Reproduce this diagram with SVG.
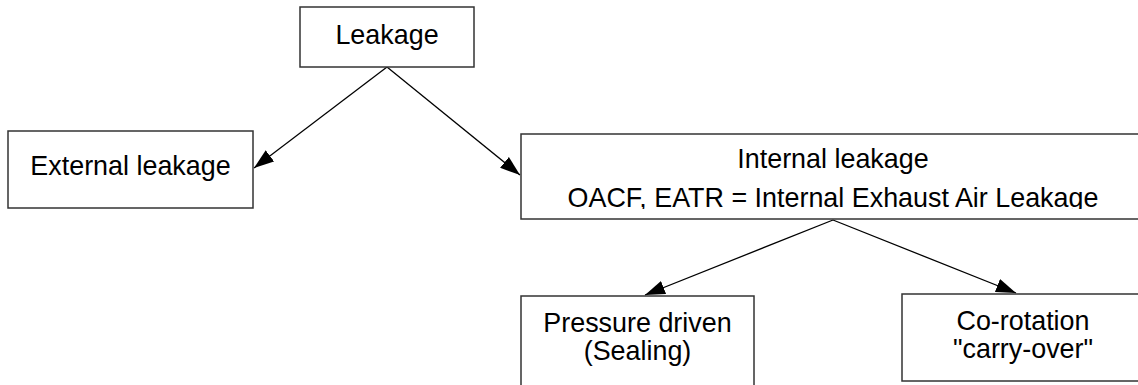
<svg xmlns="http://www.w3.org/2000/svg" width="1138" height="385" viewBox="0 0 1138 385">
<style>
.box{fill:#fff;stroke:#333;stroke-width:1.5}
.t{font-family:"Liberation Sans",Arial,sans-serif;font-size:26.9px;fill:#000;text-anchor:middle}
.c{stroke:#000;stroke-width:1.3;fill:none}
</style>
<defs>
<marker id="ah" markerUnits="userSpaceOnUse" markerWidth="20" markerHeight="14" refX="20" refY="7" orient="auto">
<path d="M0,0 L20,7 L0,14 z" fill="#000"/>
</marker>
<clipPath id="clipInt"><rect x="521" y="134" width="640" height="75"/></clipPath>
</defs>
<rect width="1138" height="385" fill="#fff"/>
<g id="connectors">
<line class="c" x1="387" y1="67" x2="254" y2="168" marker-end="url(#ah)"/>
<line class="c" x1="387" y1="67" x2="520" y2="175" marker-end="url(#ah)"/>
<line class="c" x1="833" y1="220" x2="645" y2="295" marker-end="url(#ah)"/>
<line class="c" x1="833" y1="220" x2="1016" y2="293" marker-end="url(#ah)"/>
</g>
<g id="leakage">
<rect class="box" x="300" y="7" width="174" height="60"/>
<text class="t" x="387" y="44">Leakage</text>
</g>
<g id="external">
<rect class="box" x="8" y="131" width="245" height="77"/>
<text class="t" x="130.5" y="175">External leakage</text>
</g>
<g id="internal">
<rect class="box" x="521" y="134" width="624" height="85"/>
<g clip-path="url(#clipInt)">
<text class="t" x="833" y="168">Internal leakage</text>
<text class="t" x="833" y="207">OACF, EATR = Internal Exhaust Air Leakage</text>
</g>
</g>
<g id="pressure">
<rect class="box" x="521" y="296" width="233" height="100"/>
<text class="t" x="637.5" y="332">Pressure driven</text>
<text class="t" x="637.5" y="360">(Sealing)</text>
</g>
<g id="corotation">
<rect class="box" x="902" y="294" width="243" height="87"/>
<text class="t" x="1023" y="330">Co-rotation</text>
<text class="t" x="1023" y="358">"carry-over"</text>
</g>
</svg>
